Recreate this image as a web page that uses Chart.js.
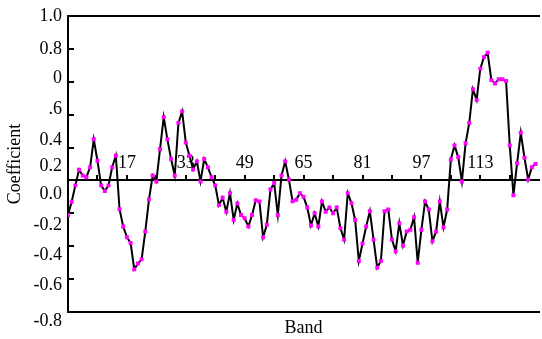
<!DOCTYPE html>
<html>
<head>
<meta charset="utf-8">
<script src="https://cdn.jsdelivr.net/npm/chart.js@4.4.1/dist/chart.umd.min.js"></script>
<style>
  html, body { margin: 0; padding: 0; background: #fff; }
  #wrap { width: 542px; height: 339px; }
</style>
</head>
<body>
<div id="wrap"><canvas id="myChart"></canvas></div>
<script>
// band number on x
const bands = Array.from({ length: 128 }, (_, i) => i + 1);
// coefficient of each band
const coefficients = [
  -0.21, -0.13, -0.03, 0.065, 0.03, 0.02, 0.08, 0.25, 0.12, -0.03,
  -0.065, -0.03, 0.08, 0.15, -0.175, -0.28, -0.345, -0.38, -0.54, -0.505,
  -0.48, -0.31, -0.115, 0.03, -0.006, 0.19, 0.385, 0.25, 0.13, 0.03,
  0.35, 0.42, 0.23, 0.15, 0.067, 0.116, -0.006, 0.13, 0.08, 0.02,
  -0.03, -0.15, -0.105, -0.19, -0.077, -0.24, -0.14, -0.21, -0.23, -0.28,
  -0.21, -0.12, -0.128, -0.345, -0.27, -0.055, -0.016, -0.21, 0.03, 0.116,
  0.006, -0.126, -0.118, -0.077, -0.1, -0.165, -0.274, -0.2, -0.28, -0.128,
  -0.19, -0.165, -0.2, -0.165, -0.29, -0.36, -0.077, -0.138, -0.24, -0.49,
  -0.384, -0.28, -0.187, -0.36, -0.53, -0.49, -0.187, -0.177, -0.36, -0.43,
  -0.26, -0.395, -0.31, -0.3, -0.224, -0.5, -0.3, -0.128, -0.177, -0.37,
  -0.31, -0.128, -0.285, -0.177, 0.128, 0.213, 0.142, -0.006, 0.226, 0.35,
  0.555, 0.49, 0.68, 0.75, 0.776, 0.61, 0.59, 0.616, 0.616, 0.605,
  0.213, -0.09, 0.105, 0.29, 0.138, 0.006, 0.08, 0.1
];
// ticks on the zero line, labelled every second one
const bandTicks = [1, 9, 17, 25, 33, 41, 49, 57, 65, 73, 81, 89, 97, 105, 113, 121];
const bandTickLabels = ['', '', '17', '', '33', '', '49', '', '65', '', '81', '', '97', '', '113', ''];
// tick marks on the left axis, and the labels as printed
// (the printed labels sit a little off their marks in the figure)
const yTickStep = 0.2;
const yLabelText = ['1.0', '0.8', '0', '.6', '0.4', '0.2', '0.0', '-0.2', '-0.4', '-0.6', '-0.8'];
const yLabelAt = [1.0, 0.80, 0.623, 0.43, 0.243, 0.088, -0.083, -0.274, -0.456, -0.635, -0.855];

const serif = { family: "'Liberation Serif', 'Times New Roman', serif", size: 18 };
Chart.defaults.color = '#000';

// keep the plot box where the figure has it
function noPad(axis) {
  axis.paddingLeft = 0;
  axis.paddingRight = 0;
  axis.paddingTop = 0;
  axis.paddingBottom = 0;
}

const ctx = document.getElementById('myChart').getContext('2d');
new Chart(ctx, {
  type: 'line',
  data: {
    datasets: [{
      data: bands.map((b, i) => ({ x: b, y: coefficients[i] })),
      borderColor: '#000',
      borderWidth: 2,
      tension: 0,
      pointStyle: 'rect',
      pointRadius: 2.8,
      pointHoverRadius: 2.8,
      pointBorderWidth: 0,
      pointBackgroundColor: '#ff00ff'
    }]
  },
  options: {
    responsive: true,
    maintainAspectRatio: false,
    animation: false,
    layout: { padding: 0 },
    plugins: {
      legend: { display: false },
      tooltip: { enabled: false }
    },
    scales: {
      x: {
        type: 'linear', position: 'bottom', min: 1, max: 129,
        ticks: { display: false },
        grid: { display: false, drawTicks: false },
        border: { color: '#000', width: 2 },
        title: { display: true, text: 'Band', font: serif, color: '#000', padding: { top: 0, bottom: 0 } },
        afterFit: a => { a.height = 27; noPad(a); }
      },
      xTop: {
        axis: 'x', type: 'linear', position: 'top', min: 1, max: 129,
        ticks: { display: false },
        grid: { display: false, drawTicks: false },
        border: { color: '#000', width: 2 },
        afterFit: a => { a.height = 16; noPad(a); }
      },
      xZero: {
        axis: 'x', type: 'linear', position: { y: 0 }, min: 1, max: 129,
        afterBuildTicks: a => { a.ticks = bandTicks.map(v => ({ value: v })); },
        ticks: {
          autoSkip: false, maxRotation: 0, padding: -22, font: serif, color: '#000',
          callback: (v, i) => bandTickLabels[i]
        },
        grid: { drawOnChartArea: false, tickLength: -6, color: '#000', lineWidth: 2 },
        border: { color: '#000', width: 2 },
        afterFit: noPad
      },
      y: {
        type: 'linear', position: 'left', min: -0.8, max: 1.0,
        ticks: { display: false },
        grid: { display: false, drawTicks: false },
        border: { color: '#000', width: 2 },
        afterFit: a => { a.width = 0; noPad(a); }
      },
      // inward tick marks along the left axis
      yMarks: {
        axis: 'y', type: 'linear', position: { x: 1 }, min: -0.8, max: 1.0,
        ticks: { stepSize: yTickStep, padding: 0, callback: () => '' },
        grid: { drawOnChartArea: false, tickLength: -6, color: '#000', lineWidth: 2 },
        border: { display: false },
        afterFit: noPad
      },
      yLabels: {
        axis: 'y', type: 'linear', position: 'left', weight: 1, min: -0.8, max: 1.0,
        afterBuildTicks: a => { a.ticks = yLabelAt.map(v => ({ value: v })); },
        ticks: {
          autoSkip: false, padding: 6, font: serif, color: '#000',
          callback: (v, i) => yLabelText[i]
        },
        grid: { display: false, drawTicks: false },
        border: { display: false },
        title: { display: true, text: 'Coefficient', font: serif, color: '#000', padding: { top: 4, bottom: 0 } },
        afterFit: a => { a.width = 68; noPad(a); }
      }
    }
  }
});
</script>
</body>
</html>
